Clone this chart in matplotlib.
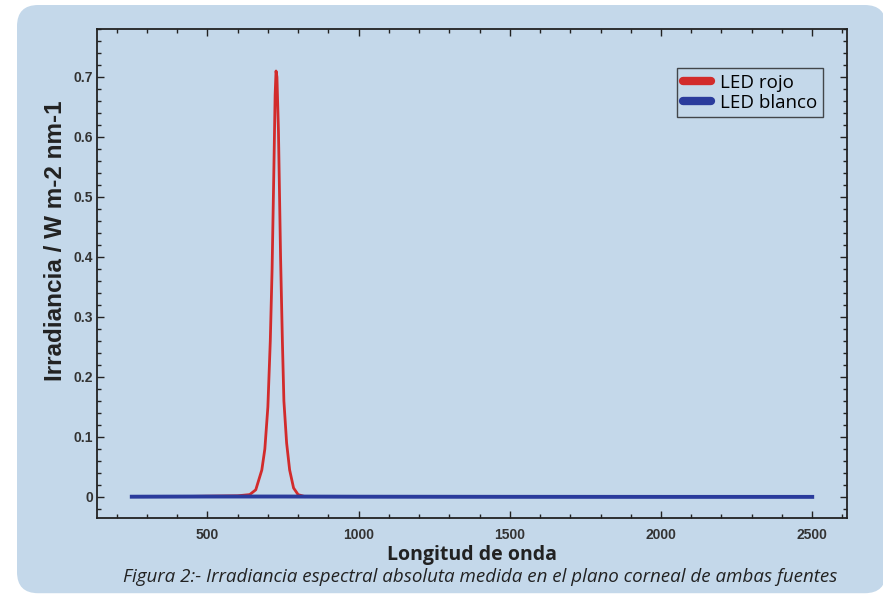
import matplotlib
matplotlib.use("Agg")
import matplotlib.pyplot as plt
from matplotlib.patches import FancyBboxPatch
from matplotlib.ticker import MultipleLocator

# LED rojo: espectro (nm, W m-2 nm-1)
red_wl = [450, 600, 640, 660, 680, 690, 700, 708, 714, 720, 724, 727, 730,
          735, 742, 748, 753, 762, 772, 785, 800, 820]
red_val = [0.001, 0.002, 0.004, 0.012, 0.045, 0.08, 0.15, 0.26, 0.38, 0.55,
           0.67, 0.71, 0.70, 0.61, 0.40, 0.26, 0.16, 0.09, 0.045, 0.015,
           0.004, 0.001]

# LED blanco: practicamente nulo en toda la escala
blue_wl = [250, 500, 750, 1000, 1500, 2000, 2500]
blue_val = [0.0005, 0.0008, 0.0008, 0.0005, 0.0003, 0.0002, 0.0002]

xticks = [500, 1000, 1500, 2000, 2500]
yticks = [0, 0.1, 0.2, 0.3, 0.4, 0.5, 0.6, 0.7]

bg = "#c4d8ea"
red = "#d22b2b"
blue = "#2a3b9c"

fig = plt.figure(figsize=(8.83, 5.95), dpi=100)
fig.patch.set_facecolor("white")

# panel de fondo redondeado
W, H = 883.0, 595.0
panel = FancyBboxPatch((17 / W, 0.003), (886 - 17) / W, (595 - 5) / H - 0.003,
                       boxstyle="round,pad=0,rounding_size=0.024",
                       transform=fig.transFigure, facecolor=bg,
                       edgecolor="none", zorder=-10, mutation_aspect=W / H)
fig.patches.append(panel)

ax = fig.add_axes([97 / W, 1 - 518 / H, (847 - 97) / W, (518 - 29) / H])
ax.set_facecolor(bg)

ax.plot(red_wl, red_val, color=red, lw=2.0, label="LED rojo", zorder=3)
ax.plot(blue_wl, blue_val, color=blue, lw=2.8, label="LED blanco", zorder=4)

ax.set_xlim(135, 2615)
ax.set_ylim(-0.035, 0.78)
ax.set_xticks(xticks)
ax.set_yticks(yticks)
ax.set_yticklabels(["0", "0.1", "0.2", "0.3", "0.4", "0.5", "0.6", "0.7"])
ax.xaxis.set_minor_locator(MultipleLocator(100))
ax.yaxis.set_minor_locator(MultipleLocator(0.02))

ax.tick_params(which="both", direction="in", top=True, right=True,
               color="#222222", width=1.0)
ax.tick_params(which="major", length=5)
ax.tick_params(which="minor", length=3)
ax.tick_params(axis="x", pad=7)
ax.tick_params(axis="y", pad=3)
for lab in ax.get_xticklabels() + ax.get_yticklabels():
    lab.set_fontfamily("Liberation Sans")
    lab.set_fontweight("bold")
    lab.set_fontsize(10)
    lab.set_color("#333333")
for s in ax.spines.values():
    s.set_color("#222222")
    s.set_linewidth(1.3)

fig.text(472 / W, 1 - 555 / H, "Longitud de onda", ha="center", va="center",
         fontsize=14, fontweight="bold", family="Open Sans", color="#222222")
fig.text(56 / W, 1 - 241 / H, "Irradiancia / W m-2 nm-1", ha="center",
         va="center", rotation=90, fontsize=17.5, fontweight="bold",
         family="Liberation Sans", color="#222222")
fig.text(480 / W, 1 - 577 / H,
         "Figura 2:- Irradiancia espectral absoluta medida en el plano corneal de ambas fuentes",
         ha="center", va="center", fontsize=13.5, style="italic",
         family="Open Sans", color="#222222")

leg = ax.legend(loc="upper right", bbox_to_anchor=(823 / W, 1 - 68 / H),
                bbox_transform=fig.transFigure, borderaxespad=0,
                frameon=True, fancybox=False,
                prop={"family": "Open Sans", "size": 13.5},
                handlelength=1.5, handletextpad=0.5, borderpad=0.3,
                labelspacing=0.1)
leg.get_frame().set_edgecolor("#222222")
leg.get_frame().set_facecolor(bg)
leg.get_frame().set_linewidth(1.0)
for h in leg.get_lines():
    h.set_linewidth(6)
    h.set_solid_capstyle("round")

fig.savefig("out.png", dpi=100, facecolor=fig.get_facecolor())
